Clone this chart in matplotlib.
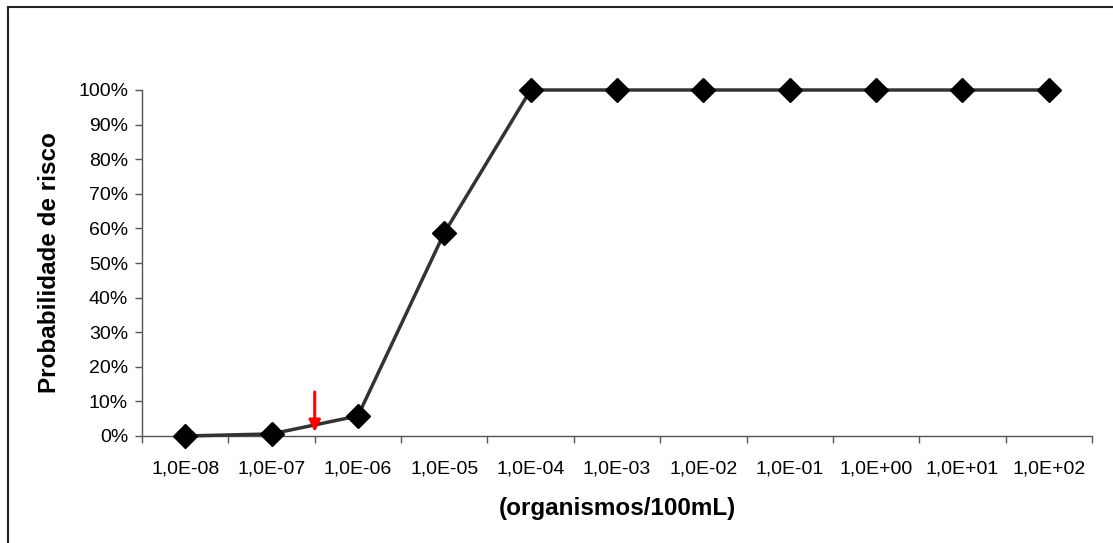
import matplotlib
matplotlib.use("Agg")
import matplotlib.pyplot as plt
from matplotlib.lines import Line2D
from matplotlib.ticker import FixedLocator, PercentFormatter

# data
categorias = ["1,0E-08", "1,0E-07", "1,0E-06", "1,0E-05", "1,0E-04", "1,0E-03",
              "1,0E-02", "1,0E-01", "1,0E+00", "1,0E+01", "1,0E+02"]
probabilidade = [0.0, 0.006, 0.058, 0.587, 1.0, 1.0, 1.0, 1.0, 1.0, 1.0, 1.0]
seta_x = 1.5
seta_y = (0.127, 0.012)

plt.rcParams['font.family'] = ['Liberation Sans', 'DejaVu Sans']

fig = plt.figure(figsize=(11.13, 5.43), dpi=100)
ax = fig.add_axes([142/1113, 1 - 436/543, 950/1113, 346/543])

x = list(range(len(categorias)))
ax.plot(x, probabilidade, color="#333333", lw=2.5, marker="D", ms=12.5,
        mfc="black", mec="black", zorder=3, clip_on=False)

# red arrow
ax.annotate("", xy=(seta_x, seta_y[1]), xytext=(seta_x, seta_y[0]),
            arrowprops=dict(arrowstyle="-|>", color="red", lw=2.2,
                            mutation_scale=17, shrinkA=0, shrinkB=0), zorder=4)

ax.set_xlim(-0.5, len(categorias) - 0.5)
ax.set_ylim(0, 1)

# category axis: ticks on boundaries, labels at centres
ax.xaxis.set_major_locator(FixedLocator([i - 0.5 for i in range(len(categorias) + 1)]))
ax.xaxis.set_minor_locator(FixedLocator(x))
ax.set_xticklabels([], minor=False)
ax.set_xticklabels(categorias, minor=True)
ax.tick_params(axis="x", which="major", length=5, width=1, color="#555555", direction="out")
ax.tick_params(axis="x", which="minor", length=0, labelsize=14, pad=18)

ax.set_yticks([i / 10 for i in range(11)])
ax.yaxis.set_major_formatter(PercentFormatter(1.0, decimals=0))
ax.tick_params(axis="y", length=5, width=1, color="#555555", labelsize=14, pad=5)

for s in ["top", "right"]:
    ax.spines[s].set_visible(False)
for s in ["left", "bottom"]:
    ax.spines[s].set_color("#555555")
    ax.spines[s].set_linewidth(1)

ax.set_ylabel("Probabilidade de risco", fontsize=17.5, fontweight="bold", labelpad=12)
ax.set_xlabel("(organismos/100mL)", fontsize=17.5, fontweight="bold", labelpad=14)

# outer frame (only top and left visible)
fig.add_artist(Line2D([8/1113, 1.0], [1 - 7/543, 1 - 7/543], color="#222222", lw=1.5,
                      transform=fig.transFigure))
fig.add_artist(Line2D([8/1113, 8/1113], [0.0, 1 - 7/543], color="#222222", lw=1.5,
                      transform=fig.transFigure))

fig.savefig("out.png", dpi=100)
